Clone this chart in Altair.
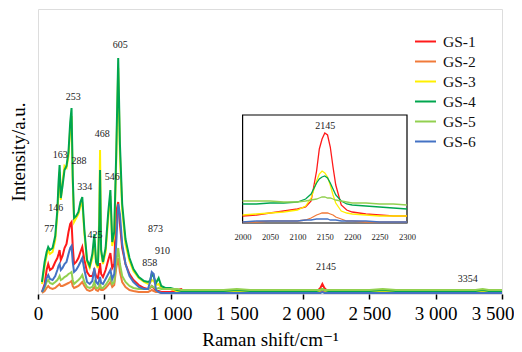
import altair as alt
import pandas as pd

series = ["GS-1", "GS-2", "GS-3", "GS-4", "GS-5", "GS-6"]
colors = ["#FF1A1A", "#F07A3A", "#FFF000", "#00A64F", "#92D050", "#4472C4"]

# main spectrum (Raman shift, cm-1)
wn = [30, 50, 65, 77, 90, 110, 130, 146, 155, 163, 172, 185, 200, 215, 230,
      243, 253, 262, 272, 288, 305, 320, 334, 350, 370, 390, 410, 425, 438, 452,
      462, 468, 476, 490, 510, 530, 546, 560, 575, 590, 605, 618, 635, 660, 690,
      720, 760, 800, 830, 845, 858, 873, 890, 910, 930, 960, 1000, 1050, 1080, 1100,
      1200, 1400, 1500, 1600, 1800, 2000, 2100, 2130, 2145, 2160, 2190, 2300, 2500, 2600, 2700,
      3000, 3300, 3354, 3400, 3500]

gs1 = [2, 10, 24, 30, 24, 26, 32, 36, 40, 44, 34, 38, 46, 50, 62,
       70, 72, 48, 30, 32, 36, 42, 47, 34, 22, 18, 18, 24, 18, 16,
       24, 31, 20, 17, 24, 34, 41, 26, 30, 82, 92, 70, 46, 30, 20,
       14, 9, 6, 5, 6, 8, 6, 3, 3, 2, 2, 2, 4, 5, 3,
       2, 2, 2, 2, 2, 2, 2, 6, 10, 6, 2, 2, 2, 2, 2,
       2, 2, 2, 2, 2]
gs2 = [1, 3, 6, 8, 6, 5, 6, 8, 9, 10, 8, 8, 9, 10, 11,
       12, 13, 8, 6, 7, 8, 10, 12, 8, 4, 3, 4, 7, 4, 3,
       5, 6, 4, 4, 6, 9, 12, 7, 9, 26, 36, 22, 12, 7, 4,
       3, 2, 2, 2, 3, 4, 3, 2, 2, 1, 1, 1, 1, 1, 1,
       1, 1, 1, 1, 1, 1, 1, 2, 3, 2, 1, 1, 1, 1, 1,
       1, 1, 1, 1, 1]
gs3 = [10, 28, 38, 44, 40, 42, 54, 80, 104, 122, 94, 112, 128, 126, 138,
       165, 178, 112, 72, 76, 80, 88, 92, 60, 32, 26, 36, 54, 30, 26,
       80, 144, 42, 30, 42, 76, 98, 48, 58, 132, 226, 140, 84, 50, 33,
       23, 16, 12, 10, 11, 14, 13, 9, 10, 6, 5, 5, 3, 3, 3,
       2, 2, 3, 2, 2, 2, 2, 4, 5, 4, 2, 2, 2, 3, 2,
       2, 2, 3, 2, 2]
gs4 = [12, 32, 42, 47, 44, 46, 58, 84, 112, 129, 96, 108, 124, 128, 142,
       172, 186, 118, 76, 78, 82, 92, 97, 64, 34, 28, 40, 60, 32, 28,
       70, 124, 44, 32, 46, 82, 104, 52, 62, 140, 236, 150, 90, 55, 36,
       25, 17, 13, 12, 13, 20, 17, 11, 16, 8, 6, 6, 4, 3, 3,
       3, 3, 4, 3, 3, 3, 3, 4, 5, 4, 3, 3, 3, 4, 3,
       3, 3, 4, 3, 3]
gs5 = [2, 6, 12, 14, 11, 10, 12, 14, 16, 18, 14, 15, 17, 18, 20,
       21, 22, 14, 10, 12, 14, 16, 19, 12, 7, 6, 7, 12, 6, 6,
       8, 10, 6, 6, 9, 13, 17, 10, 12, 32, 46, 30, 18, 12, 8,
       6, 5, 5, 5, 6, 8, 7, 5, 6, 5, 5, 5, 5, 4, 4,
       4, 4, 5, 4, 4, 4, 4, 4, 5, 4, 4, 4, 4, 5, 4,
       4, 4, 5, 4, 4]
gs6 = [2, 8, 16, 19, 15, 14, 18, 24, 28, 30, 24, 26, 30, 32, 40,
       46, 48, 32, 22, 24, 28, 32, 36, 24, 12, 10, 13, 26, 12, 10,
       14, 17, 11, 10, 15, 20, 24, 15, 20, 50, 90, 80, 50, 30, 18,
       12, 7, 5, 5, 12, 22, 20, 4, 2, 1, 1, 1, 1, 1, 1,
       1, 1, 1, 1, 1, 1, 1, 1, 2, 1, 1, 1, 1, 1, 1,
       1, 1, 1, 1, 1]

# inset spectrum 2000-2300 cm-1
wn_in = [2000, 2025, 2050, 2075, 2100, 2115, 2125, 2135, 2140, 2145, 2150,
         2155, 2160, 2165, 2170, 2180, 2190, 2200, 2225, 2250, 2275, 2300]
in1 = [7, 8, 10, 12, 14, 16, 22, 52, 74, 84, 90, 88, 76, 56, 38, 18, 13, 11, 9, 8, 7, 7]
in2 = [1, 1, 2, 2, 2, 3, 5, 8, 9, 10, 10, 10, 9, 8, 6, 4, 2, 2, 1, 1, 1, 1]
in3 = [8, 9, 10, 11, 13, 17, 25, 42, 49, 52, 50, 46, 38, 28, 20, 12, 10, 9, 8, 7, 7, 7]
in4 = [19, 19, 20, 20, 21, 24, 29, 40, 44, 46, 47, 45, 40, 34, 28, 22, 19, 18, 17, 16, 15, 14]
in5 = [22, 22, 22, 21, 21, 22, 23, 24, 25, 26, 26, 25, 25, 24, 23, 22, 21, 20, 20, 19, 19, 18]
in6 = [1, 2, 2, 2, 2, 3, 3, 4, 4, 4, 4, 4, 3, 3, 3, 2, 2, 2, 2, 1, 1, 1]

# peak annotations
peak_text = ["77", "146", "163", "253", "288", "334", "425", "468", "546", "605",
             "858", "873", "910", "2145", "3354"]
peak_x = [84, 134, 168, 265, 309, 353, 430, 485, 560, 621, 843, 886, 939, 2173, 3241]
peak_y = [65, 86, 139, 197, 133, 107, 59, 160, 117, 249, 31, 65, 43, 27, 15]

inset_text = ["2145"]
inset_tx = [2151]
inset_ty = [97]

x_ticks = [0, 500, 1000, 1500, 2000, 2500, 3000, 3500]
inset_ticks = [2000, 2050, 2100, 2150, 2200, 2250, 2300]

FONT = "'Liberation Serif', 'Times New Roman', 'DejaVu Serif', serif"

main_rows = []
for name, vals in zip(series, [gs1, gs2, gs3, gs4, gs5, gs6]):
    for x, y in zip(wn, vals):
        main_rows.append({"wn": x, "I": y, "sample": name})
main_df = pd.DataFrame(main_rows)

inset_rows = []
for name, vals in zip(series, [in1, in2, in3, in4, in5, in6]):
    for x, y in zip(wn_in, vals):
        inset_rows.append({"wn": x, "I": y, "sample": name})
inset_df = pd.DataFrame(inset_rows)

peaks_df = pd.DataFrame({"wn": peak_x, "I": peak_y, "label": peak_text})
inset_lab_df = pd.DataFrame({"wn": inset_tx, "I": inset_ty, "label": inset_text})
frame_df = pd.DataFrame({"x0": [2000], "x1": [2300], "y0": [0], "y1": [108]})

legend = alt.Legend(
    title=None, orient="none", legendX=376, legendY=21,
    symbolType="stroke", symbolSize=441, symbolStrokeWidth=2,
    labelFont=FONT, labelFontSize=15.5, labelColor="#111",
    labelOffset=6, rowPadding=-1, padding=0,
)
color = alt.Color("sample:N", scale=alt.Scale(domain=series, range=colors), legend=legend)

last_tick = "datum.value == 3500"
x_main = alt.X("wn:Q", scale=alt.Scale(domain=[0, 3500], nice=False, zero=False),
               axis=alt.Axis(values=x_ticks, title="Raman shift/cm⁻¹",
                             labelExpr="replace(format(datum.value, ','), ',', ' ')",
                             labelFlush=False, labelOverlap=False,
                             labelAlign={"condition": {"test": last_tick, "value": "right"},
                                         "value": "center"},
                             labelOffset={"condition": {"test": last_tick, "value": 12},
                                          "value": 0},
                             grid=False, domain=False, ticks=True, tickSize=5,
                             tickWidth=1.5, tickColor="black",
                             labelFont=FONT, labelFontSize=19, labelColor="black",
                             labelPadding=5, titleFont=FONT, titleFontSize=19,
                             titleFontWeight="normal", titleColor="black", titlePadding=7))
y_main = alt.Y("I:Q", scale=alt.Scale(domain=[0, 285], nice=False),
               axis=alt.Axis(title="Intensity/a.u.", labels=False, ticks=False,
                             domain=False, grid=False, titleFont=FONT, titleFontSize=19,
                             titleFontWeight="normal", titleColor="black", titlePadding=10))

lines = alt.Chart(main_df).mark_line(strokeWidth=2).encode(
    x=x_main, y=y_main, color=color, order=alt.Order("wn:Q"))
peaks = alt.Chart(peaks_df).mark_text(font=FONT, fontSize=10, color="#222").encode(
    x=x_main, y=y_main, text="label:N")
main = alt.layer(lines, peaks)

in_axis = alt.Axis(orient="bottom", offset=-71, values=inset_ticks, title=None, format="d",
                   labelFlush=False, labelOverlap=False,
                   grid=False, domain=False, ticks=False, labelFont=FONT,
                   labelFontSize=8.5, labelColor="#222", labelPadding=9)
in_xscale = alt.Scale(domain=[2000, 2300], range=[204.6, 369], nice=False, zero=False)
in_yscale = alt.Scale(domain=[0, 108], range=[214, 106], nice=False)
x_in = alt.X("wn:Q", scale=in_xscale, axis=in_axis)
y_in = alt.Y("I:Q", scale=in_yscale, axis=None)

frame = alt.Chart(frame_df).mark_rect(fill="white", stroke="black", strokeWidth=1.2).encode(
    x=alt.X("x0:Q", scale=in_xscale, axis=in_axis),
    x2="x1:Q",
    y=alt.Y("y0:Q", scale=in_yscale, axis=None),
    y2="y1:Q")
inset_lines = alt.Chart(inset_df).mark_line(strokeWidth=1.3).encode(
    x=x_in, y=y_in, color=color, order=alt.Order("wn:Q"))
inset_lab = alt.Chart(inset_lab_df).mark_text(font=FONT, fontSize=10, color="#222").encode(
    x=x_in, y=y_in, text="label:N")
inset = alt.layer(frame, inset_lines, inset_lab)

chart = alt.layer(main, inset).resolve_scale(x="independent", y="independent").properties(
    width=464, height=285,
    autosize=alt.AutoSizeParams(type="none"),
    padding={"left": 30, "top": 1, "right": 12, "bottom": 58},
).configure_view(stroke="black", strokeWidth=1.6).configure(background="white")

chart.save("out.html", embed_options={"renderer": "svg", "actions": False})
